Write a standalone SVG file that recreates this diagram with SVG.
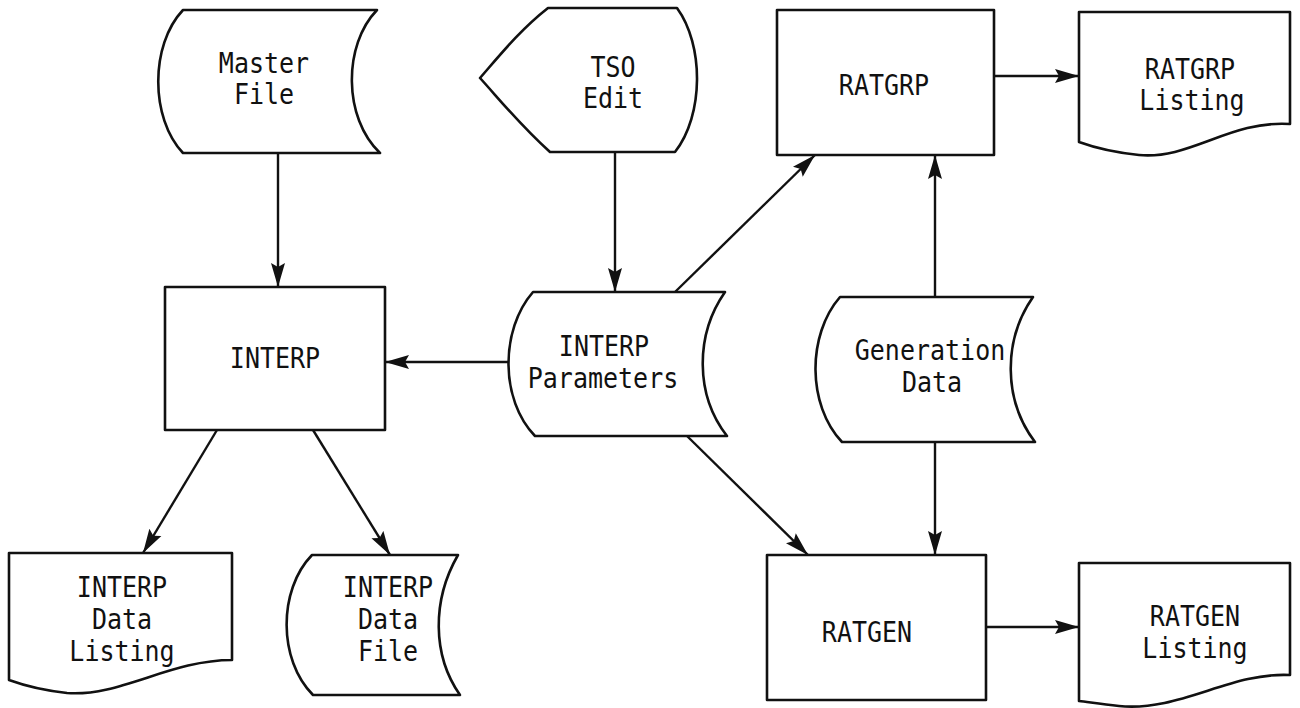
<svg xmlns="http://www.w3.org/2000/svg" width="1300" height="708" viewBox="0 0 1300 708">
<style>
.n{fill:#fff;stroke:#111;stroke-width:2.6;stroke-linejoin:round}
.c{fill:none;stroke:#111;stroke-width:2.4}
.t{font-family:"DejaVu Sans Mono","Liberation Mono",monospace;font-size:25px;fill:#111;text-anchor:middle}
</style>
<defs>
<marker id="ah" markerUnits="userSpaceOnUse" markerWidth="26" markerHeight="16" refX="24" refY="8" orient="auto">
<path d="M0,1 L24,8 L0,15 L4,8 Z" fill="#111"/>
</marker>
</defs>
<rect width="1300" height="708" fill="#fff"/>
<g id="connectors">
<line class="c" x1="278" y1="153" x2="278" y2="287" marker-end="url(#ah)"/>
<line class="c" x1="615" y1="152" x2="615" y2="292" marker-end="url(#ah)"/>
<line class="c" x1="508" y1="362" x2="385" y2="362" marker-end="url(#ah)"/>
<line class="c" x1="675" y1="292" x2="815" y2="155" marker-end="url(#ah)"/>
<line class="c" x1="687" y1="436" x2="808" y2="555" marker-end="url(#ah)"/>
<line class="c" x1="935" y1="297" x2="935" y2="155" marker-end="url(#ah)"/>
<line class="c" x1="935" y1="442" x2="935" y2="555" marker-end="url(#ah)"/>
<line class="c" x1="217" y1="430" x2="143" y2="553" marker-end="url(#ah)"/>
<line class="c" x1="313" y1="430" x2="390" y2="555" marker-end="url(#ah)"/>
<line class="c" x1="994" y1="76" x2="1079" y2="76" marker-end="url(#ah)"/>
<line class="c" x1="986" y1="627" x2="1079" y2="627" marker-end="url(#ah)"/>
</g>
<g id="master-file">
<path class="n" d="M183,10 H377 C343,45 343,118 380,153 H183 C150,118 150,45 183,10 Z"/>
<text class="t" transform="translate(264,73) scale(1,1.12)">Master</text>
<text class="t" transform="translate(264,104) scale(1,1.12)">File</text>
</g>
<g id="tso-edit">
<path class="n" d="M548,8 H677 C704,45 704,115 675,152 H550 C520,125 500,100 480,78 C500,55 520,30 548,8 Z"/>
<text class="t" transform="translate(613,77) scale(1,1.12)">TSO</text>
<text class="t" transform="translate(613,108) scale(1,1.12)">Edit</text>
</g>
<g id="ratgrp">
<rect class="n" x="777" y="10" width="217" height="145"/>
<text class="t" transform="translate(884,95) scale(1,1.12)">RATGRP</text>
</g>
<g id="ratgrp-listing">
<path class="n" d="M1079,12 H1290 V124 C1230,120 1190,160 1139,155 C1110,152 1090,146 1079,142 Z"/>
<text class="t" transform="translate(1190,79) scale(1,1.12)">RATGRP</text>
<text class="t" transform="translate(1192,110) scale(1,1.12)">Listing</text>
</g>
<g id="interp">
<rect class="n" x="165" y="287" width="220" height="143"/>
<text class="t" transform="translate(275,368) scale(1,1.12)">INTERP</text>
</g>
<g id="interp-parameters">
<path class="n" d="M533,292 H725 C695,335 695,395 727,436 H535 C500,400 500,330 533,292 Z"/>
<text class="t" transform="translate(604,356) scale(1,1.12)">INTERP</text>
<text class="t" transform="translate(603,388) scale(1,1.12)">Parameters</text>
</g>
<g id="generation-data">
<path class="n" d="M840,297 H1033 C1003,340 1003,400 1035,442 H842 C807,405 807,335 840,297 Z"/>
<text class="t" transform="translate(930,360) scale(1,1.12)">Generation</text>
<text class="t" transform="translate(932,392) scale(1,1.12)">Data</text>
</g>
<g id="interp-data-listing">
<path class="n" d="M9,553 H232 V660 C170,660 120,697 67,693 C40,690 20,684 9,680 Z"/>
<text class="t" transform="translate(122,597) scale(1,1.12)">INTERP</text>
<text class="t" transform="translate(122,629) scale(1,1.12)">Data</text>
<text class="t" transform="translate(122,661) scale(1,1.12)">Listing</text>
</g>
<g id="interp-data-file">
<path class="n" d="M312,555 H458 C432,600 432,655 460,695 H313 C278,660 278,590 312,555 Z"/>
<text class="t" transform="translate(388,597) scale(1,1.12)">INTERP</text>
<text class="t" transform="translate(388,629) scale(1,1.12)">Data</text>
<text class="t" transform="translate(388,661) scale(1,1.12)">File</text>
</g>
<g id="ratgen">
<rect class="n" x="767" y="555" width="219" height="145"/>
<text class="t" transform="translate(867,642) scale(1,1.12)">RATGEN</text>
</g>
<g id="ratgen-listing">
<path class="n" d="M1079,563 H1290 V675 C1230,672 1180,712 1119,706 C1100,704 1088,702 1079,701 Z"/>
<text class="t" transform="translate(1195,626) scale(1,1.12)">RATGEN</text>
<text class="t" transform="translate(1195,658) scale(1,1.12)">Listing</text>
</g>
</svg>
